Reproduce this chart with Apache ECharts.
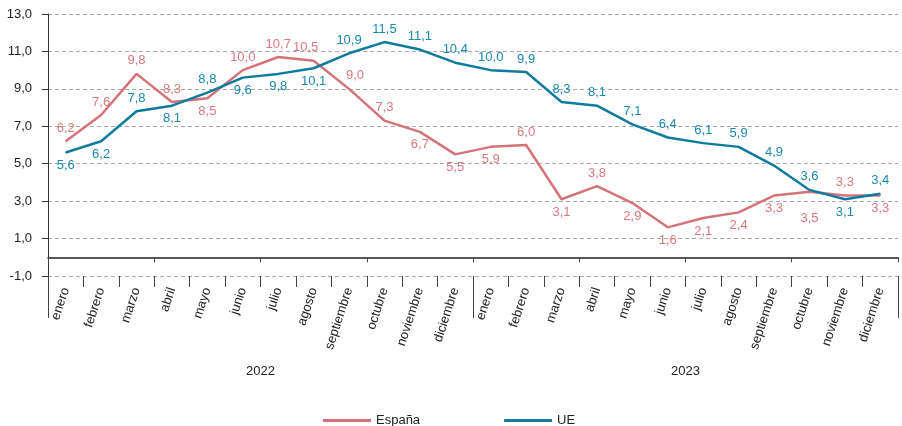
<!DOCTYPE html>
<html>
<head>
<meta charset="utf-8">
<script src="https://cdn.jsdelivr.net/npm/echarts@6/dist/echarts.min.js"></script>
<style>
  html, body { margin: 0; padding: 0; background: #fff; }
  #chart { width: 902px; height: 426px; }
</style>
</head>
<body>
<div id="chart"></div>
<script>
// meses y años
const months = ['enero', 'febrero', 'marzo', 'abril', 'mayo', 'junio', 'julio',
  'agosto', 'septiembre', 'octubre', 'noviembre', 'diciembre'];
const years = ['2022', '2023'];
const categories = years.flatMap(function () { return months; });

// series
const espana = [6.2, 7.6, 9.8, 8.3, 8.5, 10.0, 10.7, 10.5, 9.0, 7.3, 6.7, 5.5,
  5.9, 6.0, 3.1, 3.8, 2.9, 1.6, 2.1, 2.4, 3.3, 3.5, 3.3, 3.3];
const ue = [5.6, 6.2, 7.8, 8.1, 8.8, 9.6, 9.8, 10.1, 10.9, 11.5, 11.1, 10.4,
  10.0, 9.9, 8.3, 8.1, 7.1, 6.4, 6.1, 5.9, 4.9, 3.6, 3.1, 3.4];

// posición de las etiquetas (t = arriba, b = abajo)
const espanaLabelPos = ['t','t','t','t','b','t','t','t','t','t','b','b',
  'b','t','b','t','b','b','b','b','b','b','t','b'];
const ueLabelPos = ['b','b','t','b','t','b','b','b','t','t','t','t',
  't','t','t','t','t','t','t','t','t','t','b','t'];

const FONT = "'Liberation Sans', Arial, sans-serif";

function fmt(v) { return v.toFixed(1).replace('.', ','); }

function buildData(values, pos) {
  return values.map(function (v, i) {
    return { value: v, label: { position: pos[i] === 'b' ? 'bottom' : 'top' } };
  });
}

const espanaData = buildData(espana, espanaLabelPos);
// pequeños ajustes para que no se pisen
espanaData[7].label.offset = [-8, 0];
espanaData[8].label.offset = [6, 0];
espanaData[21].label.distance = 20;
const ueData = buildData(ue, ueLabelPos);

const chart = echarts.init(document.getElementById('chart'));
chart.setOption({
  animation: false,
  textStyle: { fontFamily: FONT },
  grid: { left: 48, right: 4, top: 14, bottom: 150 },
  legend: {
    left: 318, top: 409,
    icon: 'rect', itemWidth: 48, itemHeight: 3, itemGap: 84,
    textStyle: { fontSize: 13, color: '#222', fontFamily: FONT },
    data: ['España', 'UE']
  },
  xAxis: [
    {
      type: 'category', data: categories, position: 'bottom', boundaryGap: true,
      axisLine: { show: false, onZero: false },
      axisTick: { show: true, length: 11, lineStyle: { color: '#444' } },
      axisLabel: { interval: 0, rotate: 72, margin: 12, fontSize: 13, color: '#222', fontFamily: FONT },
      splitLine: { show: false }
    },
    {
      type: 'category', data: categories, position: 'bottom', boundaryGap: true,
      axisLine: { show: true, onZero: true, lineStyle: { color: '#222', width: 1.5 } },
      axisTick: { show: true, length: 5, lineStyle: { color: '#444' } },
      axisLabel: { show: false },
      splitLine: { show: false }
    },
    {
      type: 'category', data: years, position: 'bottom', boundaryGap: true,
      axisLine: { show: false, onZero: false },
      axisTick: { show: true, length: 42, lineStyle: { color: '#444' } },
      axisLabel: { margin: 89, fontSize: 13, color: '#222', fontFamily: FONT },
      splitLine: { show: false }
    }
  ],
  yAxis: {
    type: 'value', min: -1, max: 13, interval: 2,
    axisLine: { show: true, lineStyle: { color: '#333' } },
    axisTick: { show: true, length: 6, lineStyle: { color: '#333' } },
    axisLabel: { formatter: fmt, margin: 16, fontSize: 13, color: '#222', fontFamily: FONT },
    splitLine: { show: true, lineStyle: { color: '#a8a8a8', type: [4, 3], width: 1 } }
  },
  series: [
    {
      name: 'España', type: 'line', data: espanaData,
      symbol: 'circle', symbolSize: 1, showSymbol: true,
      lineStyle: { color: '#d4737a', width: 2.5 },
      itemStyle: { color: '#d4737a' },
      label: { show: true, formatter: function (p) { return fmt(p.value); },
        color: '#d9797f', fontSize: 13, distance: 6, fontFamily: FONT }
    },
    {
      name: 'UE', type: 'line', data: ueData,
      symbol: 'circle', symbolSize: 1, showSymbol: true,
      lineStyle: { color: '#0f7b9d', width: 2.5 },
      itemStyle: { color: '#0f7b9d' },
      label: { show: true, formatter: function (p) { return fmt(p.value); },
        color: '#1a88ae', fontSize: 13, distance: 6, fontFamily: FONT }
    }
  ]
});
</script>
</body>
</html>
